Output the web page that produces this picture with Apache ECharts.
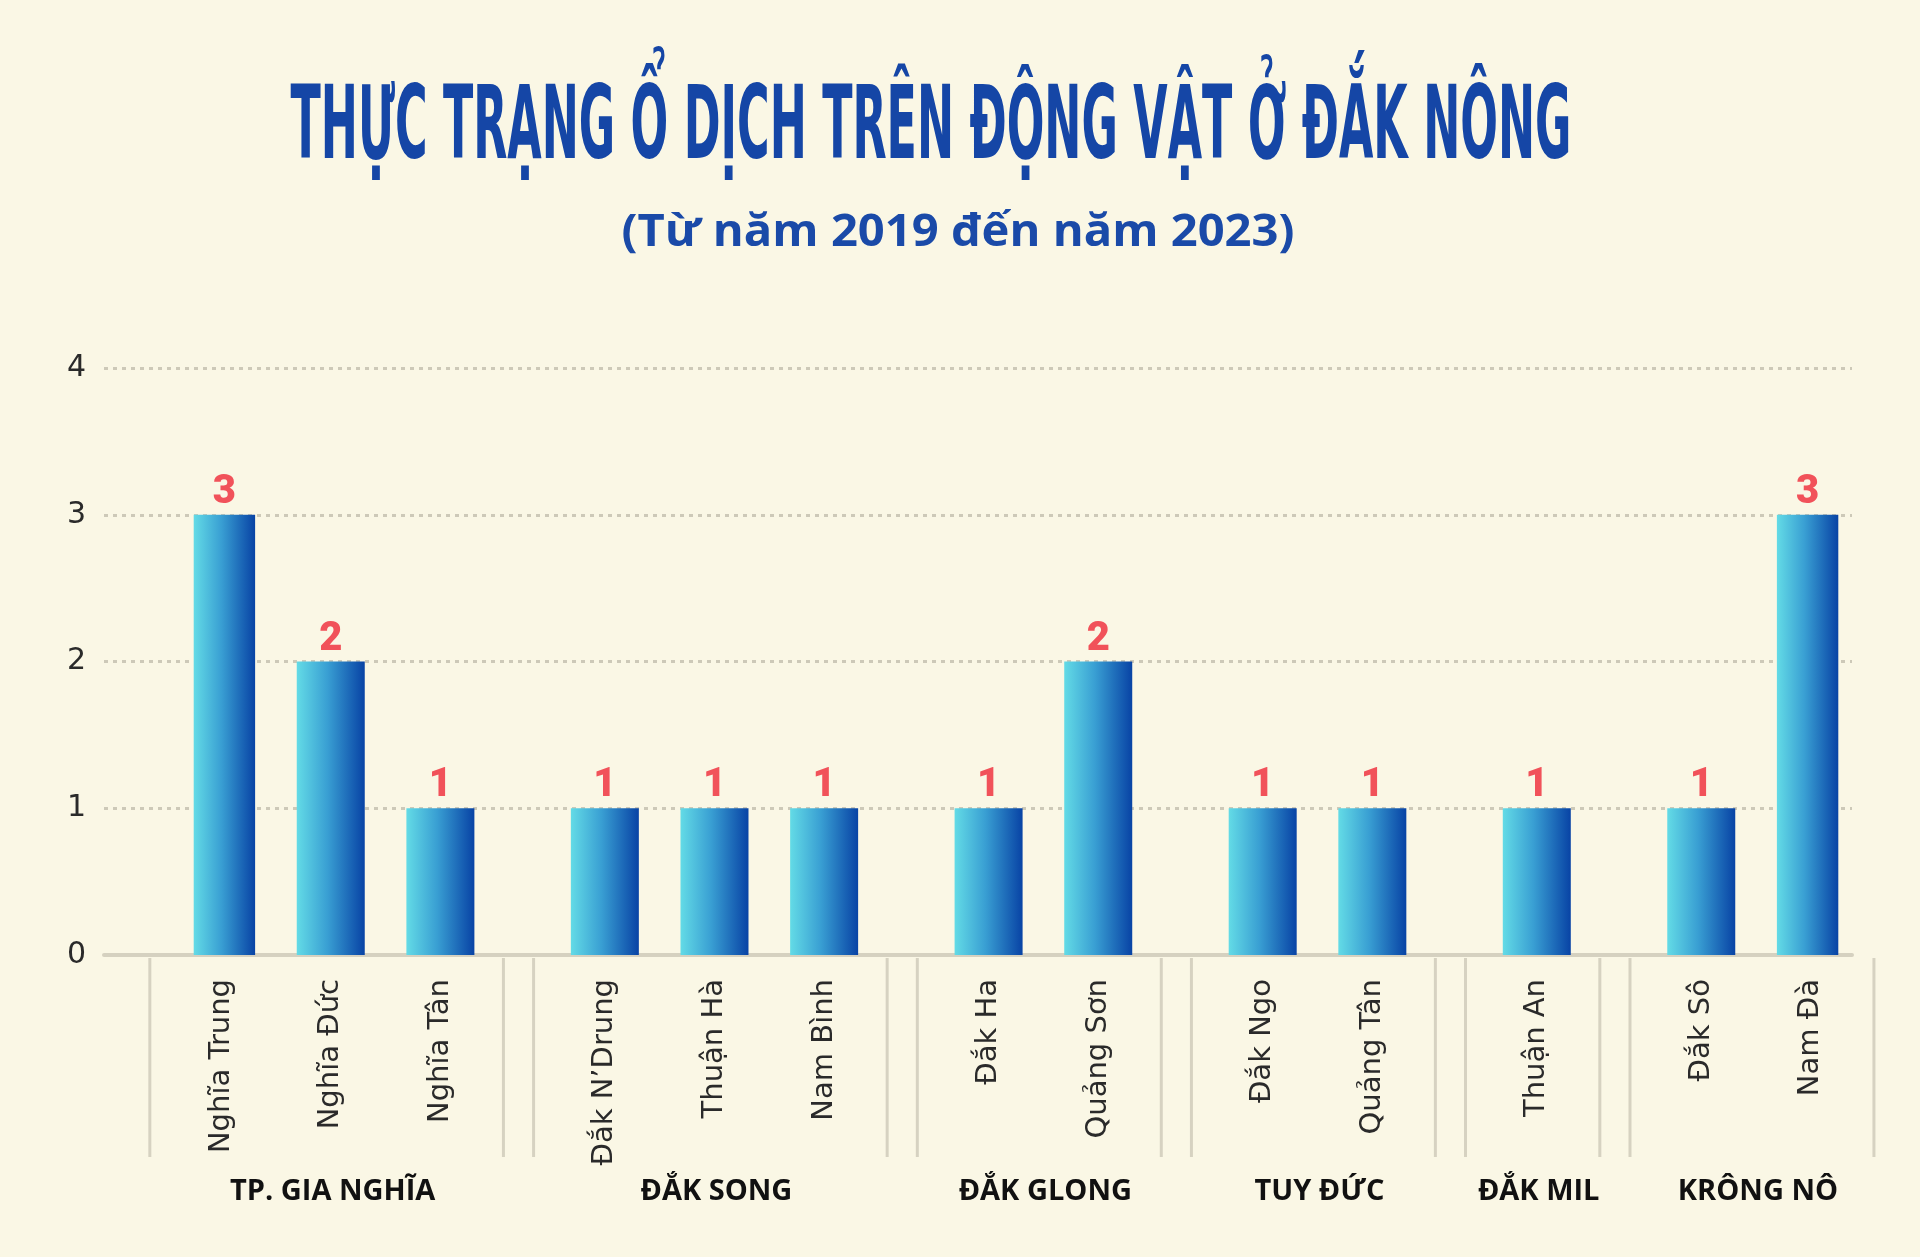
<!DOCTYPE html>
<html><head><meta charset="utf-8">
<script src="https://cdn.jsdelivr.net/npm/echarts@6/dist/echarts.min.js"></script>
<style>html,body{margin:0;padding:0;background:#faf7e5;}#chart{width:1920px;height:1257px;}</style>
</head><body><div id="chart"></div>
<script>
const titleText = 'THỰC TRẠNG Ổ DỊCH TRÊN ĐỘNG VẬT Ở ĐẮK NÔNG';
const subtitleText = '(Từ năm 2019 đến năm 2023)';
const districts = ['TP. GIA NGHĨA', 'ĐẮK SONG', 'ĐẮK GLONG', 'TUY ĐỨC', 'ĐẮK MIL', 'KRÔNG NÔ'];
const communes = [
  ['Nghĩa Trung', 'Nghĩa Đức', 'Nghĩa Tân'],
  ['Đắk N’Drung', 'Thuận Hà', 'Nam Bình'],
  ['Đắk Ha', 'Quảng Sơn'],
  ['Đắk Ngo', 'Quảng Tân'],
  ['Thuận An'],
  ['Đắk Sô', 'Nam Đà']
];
const outbreaks = [
  [3, 2, 1],
  [1, 1, 1],
  [1, 2],
  [1, 1],
  [1],
  [1, 3]
];
const yTicks = [0, 1, 2, 3, 4];

// Build category axis with spacer slots between bars / groups
const categories = [], values = [], groupSpans = [];
function pushBlank(n) { for (let i = 0; i < n; i++) { categories.push(''); values.push('-'); } }
communes.forEach((list, g) => {
  if (g > 0) pushBlank(2);
  const first = categories.length;
  list.forEach((name, k) => {
    if (k > 0) pushBlank(1);
    categories.push(name);
    values.push(outbreaks[g][k]);
  });
  groupSpans.push([first, categories.length - 1, 0]);
});

function measure(font, text) {
  const c = document.createElement('canvas').getContext('2d');
  c.font = font; return c.measureText(text).width;
}
const titleFont = 'bold 102px "Liberation Sans Narrow", "DejaVu Sans Condensed", sans-serif';
const titleScale = 1281 / measure(titleFont, titleText);
const subFont = 'bold 44px "Open Sans", sans-serif';
const subScale = 673 / measure(subFont, subtitleText);

const chart = echarts.init(document.getElementById('chart'));
const barGradient = new echarts.graphic.LinearGradient(0, 0, 1, 0, [
  { offset: 0, color: '#63dbe6' },
  { offset: 0.45, color: '#399fd3' },
  { offset: 1, color: '#0843a5' }
]);

chart.setOption({
  backgroundColor: '#faf7e5',
  animation: false,
  graphic: [
    { type: 'text', x: 931, y: 131, scaleX: titleScale, scaleY: 1,
      style: { text: titleText, font: titleFont, fill: '#1546a6', align: 'center', verticalAlign: 'middle', textAlign: 'center', textVerticalAlign: 'middle' } },
    { type: 'text', x: 958, y: 233, scaleX: subScale, scaleY: 1,
      style: { text: subtitleText, font: subFont, fill: '#1a4aa8', align: 'center', verticalAlign: 'middle', textAlign: 'center', textVerticalAlign: 'middle' } }
  ],
  grid: [
    { left: 193.7, right: 81.7, top: 368, bottom: 302 },
    { left: 104, right: 68, top: 368, bottom: 302 }
  ],
  xAxis: [
    { type: 'category', gridIndex: 0, data: categories, boundaryGap: true,
      axisLine: { show: false }, axisTick: { show: false },
      axisLabel: { interval: 0, rotate: 90, margin: 24, color: '#2a2a2a', fontSize: 29, fontFamily: '"DejaVu Sans", sans-serif', fontWeight: 'normal' } },
    { type: 'value', gridIndex: 1, min: 0, max: 1,
      axisLine: { show: true, lineStyle: { color: '#d5d1c0', width: 4 } },
      axisTick: { show: false }, axisLabel: { show: false }, splitLine: { show: false } }
  ],
  yAxis: [
    { type: 'value', gridIndex: 0, min: 0, max: 4, interval: 1, show: false, splitLine: { show: false } },
    { type: 'value', gridIndex: 1, min: yTicks[0], max: yTicks[yTicks.length - 1], interval: 1,
      axisLine: { show: false }, axisTick: { show: false },
      axisLabel: { margin: 18, color: '#2a2a2a', fontSize: 30, fontFamily: '"DejaVu Sans", sans-serif', fontWeight: 'normal' },
      splitLine: { show: true, lineStyle: { color: '#cdc9b8', width: 3, type: [4, 5] } } }
  ],
  series: [
    { type: 'bar', xAxisIndex: 0, yAxisIndex: 0, data: values, barWidth: 68,
      itemStyle: { color: barGradient },
      label: { show: true, position: 'top', distance: 2, color: '#f1525a', fontSize: 40, fontWeight: 900, fontFamily: 'Roboto, "Open Sans", sans-serif' },
      z: 3 },
    { type: 'custom', xAxisIndex: 0, yAxisIndex: 0, data: groupSpans, clip: false, silent: true,
      encode: { x: [0, 1], y: 2 },
      renderItem: function (params, api) {
        const p0 = api.coord([api.value(0), 0]);
        const p1 = api.coord([api.value(1), 0]);
        const band = api.size([1, 0])[0];
        const xl = p0[0] - 1.3 * band, xr = p1[0] + 1.15 * band;
        const y0 = p0[1];
        const ls = { stroke: '#d6d2c1', lineWidth: 3 };
        return { type: 'group', children: [
          { type: 'line', shape: { x1: xl, y1: y0 + 3, x2: xl, y2: y0 + 202 }, style: ls },
          { type: 'line', shape: { x1: xr, y1: y0 + 3, x2: xr, y2: y0 + 202 }, style: ls },
          { type: 'text', x: (xl + xr) / 2 + 6, y: y0 + 237,
            style: { text: districts[params.dataIndex], fill: '#111', font: 'bold 29px "Open Sans", sans-serif',
              align: 'center', verticalAlign: 'middle', textAlign: 'center', textVerticalAlign: 'middle' } }
        ] };
      } }
  ]
});
</script></body></html>
